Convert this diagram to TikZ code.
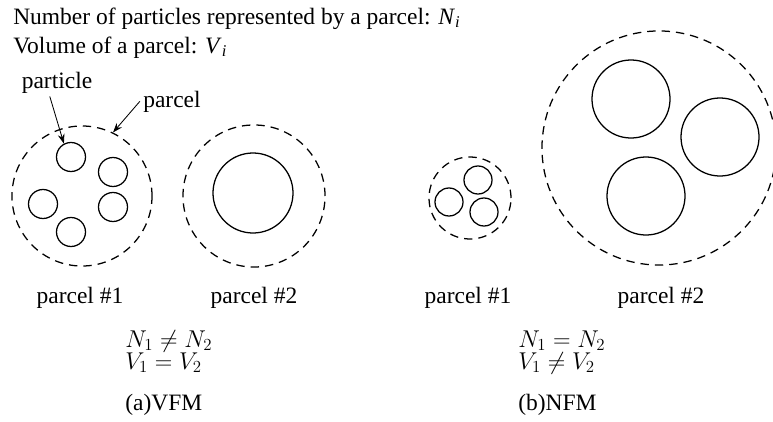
\documentclass[tikz,border=0pt]{standalone}
\usepackage[no-math]{fontspec}
\setmainfont{Liberation Serif}
\usetikzlibrary{arrows.meta,positioning}

\begin{document}
\begin{tikzpicture}[
  x=0.025cm, y=-0.025cm,
  font=\fontsize{16.7}{20}\selectfont,
  parcel/.style={circle, draw, line width=0.9pt, dash pattern=on 0.21cm off 0.15cm, minimum size=#1, inner sep=0pt},
  grain/.style={circle, draw, line width=0.9pt, minimum size=#1, inner sep=0pt},
  pointer/.style={-{Stealth[length=2.4mm, width=1.7mm]}, line width=0.6pt},
  lbl/.style={inner sep=0pt}
]
\clip (0,0) rectangle (773,421);

% === Header ===
\node[lbl, anchor=base west] (hdrN) at (13,24) {Number of particles represented by a parcel: \textit{N}\textsubscript{\textit{i}}};
\node[lbl, anchor=base west] (hdrV) at (13,53) {Volume of a parcel: \textit{V}\textsubscript{\textit{i}}};

% === (a) VFM: same volume, different number ===
\node[parcel=3.5cm]  (VFMa) at (82,196) {};
\node[grain=0.725cm] (pa1) at (71,157) {};
\node[grain=0.725cm] (pa2) at (113,172) {};
\node[grain=0.725cm] (pa3) at (43,204) {};
\node[grain=0.725cm] (pa4) at (113,207) {};
\node[grain=0.725cm] (pa5) at (71,232) {};

\node[parcel=3.55cm] (VFMb) at (254,196) {};
\node[grain=2cm]     (pb1) at (253,193) {};

% pointers
\node[lbl, anchor=base] (lblparticle) at (57,88) {particle};
\node[lbl, anchor=base] (lblparcel) at (172,107) {parcel};
\draw[pointer] ([xshift=-0.18cm, yshift=-0.08cm]lblparticle.south) -- (pa1.118);
\draw[pointer] ([xshift=-0.08cm]lblparcel.west) -- (VFMa.64);

\node[lbl, anchor=base] (nameVa) at (80,303) {parcel \#1};
\node[lbl, anchor=base] (nameVb) at (254,303) {parcel \#2};

\node[lbl, anchor=base west] (eqNa) at (125,347) {$N_1 \neq N_2$};
\node[lbl, anchor=base west] (eqVa) at (125,369) {$V_1 = V_2$};
\node[lbl, anchor=base west] (capa) at (125,410) {(a)VFM};

% === (b) NFM: same number, different volume ===
\node[parcel=2.05cm] (NFMa) at (470,198) {};
\node[grain=0.7cm]   (qa1) at (478,180) {};
\node[grain=0.7cm]   (qa2) at (449,202) {};
\node[grain=0.7cm]   (qa3) at (484,212) {};

\node[parcel=5.85cm] (NFMb) at (659,148) {};
\node[grain=1.95cm]  (qb1) at (631,99) {};
\node[grain=1.95cm]  (qb2) at (720,137) {};
\node[grain=1.95cm]  (qb3) at (646,196) {};

\node[lbl, anchor=base] (nameNa) at (468,303) {parcel \#1};
\node[lbl, anchor=base] (nameNb) at (661,303) {parcel \#2};

\node[lbl, anchor=base west] (eqNb) at (518,347) {$N_1 = N_2$};
\node[lbl, anchor=base west] (eqVb) at (518,369) {$V_1 \neq V_2$};
\node[lbl, anchor=base west] (capb) at (518,410) {(b)NFM};

\end{tikzpicture}
\end{document}
